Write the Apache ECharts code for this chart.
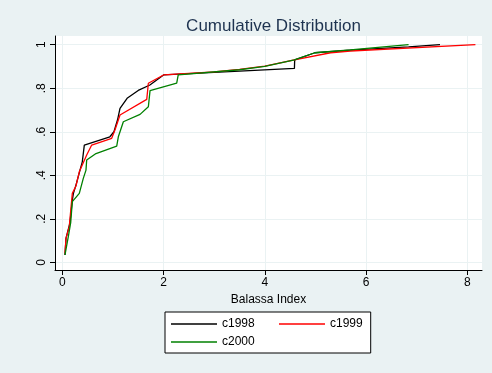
<!DOCTYPE html>
<html>
<head>
<meta charset="utf-8">
<script src="https://cdn.jsdelivr.net/npm/echarts@6/dist/echarts.min.js"></script>
<style>html,body{margin:0;padding:0;background:#EAF2F3;}#c{width:492px;height:373px;}</style>
</head>
<body>
<div id="c"></div>
<script>
var xTicks = [0, 2, 4, 6, 8];
var yTicks = [0, 0.2, 0.4, 0.6, 0.8, 1];

var c1998X = [0.053, 0.073, 0.15, 0.198, 0.22, 0.27, 0.35, 0.395, 0.435, 0.94, 1.02, 1.09, 1.14, 1.28, 1.50, 1.73, 2.0, 3.5, 4.585, 4.59, 4.99, 5.69, 6.84, 7.46];
var c1998Y = [0.034, 0.11, 0.18, 0.286, 0.317, 0.355, 0.424, 0.462, 0.539, 0.577, 0.60, 0.654, 0.708, 0.754, 0.79, 0.815, 0.861, 0.879, 0.891, 0.93, 0.963, 0.975, 0.99, 1.0];

var c1999X = [0.053, 0.073, 0.138, 0.198, 0.27, 0.336, 0.482, 0.581, 0.976, 1.04, 1.14, 1.668, 1.70, 2.0, 3.0, 3.5, 4.0, 4.585, 5.3, 5.69, 8.16];
var c1999Y = [0.041, 0.11, 0.164, 0.317, 0.351, 0.416, 0.493, 0.539, 0.570, 0.608, 0.677, 0.749, 0.823, 0.861, 0.875, 0.887, 0.902, 0.93, 0.963, 0.971, 1.0];

var c2000X = [0.053, 0.119, 0.166, 0.198, 0.336, 0.415, 0.468, 0.482, 0.666, 1.075, 1.107, 1.206, 1.536, 1.70, 1.733, 2.26, 2.29, 3.5, 4.0, 4.585, 4.99, 5.69, 6.84];
var c2000Y = [0.034, 0.118, 0.182, 0.279, 0.317, 0.386, 0.424, 0.47, 0.50, 0.534, 0.577, 0.646, 0.68, 0.715, 0.789, 0.823, 0.861, 0.885, 0.90, 0.93, 0.963, 0.976, 1.0];

function pairs(xs, ys) { return xs.map(function (x, i) { return [x, ys[i]]; }); }

var FONT = 'Liberation Sans';
var chart = echarts.init(document.getElementById('c'), null, { renderer: 'canvas' });
chart.setOption({
  backgroundColor: '#EAF2F3',
  animation: false,
  textStyle: { fontFamily: FONT },
  title: {
    text: 'Cumulative Distribution',
    left: 268.5, top: 13, textAlign: 'center',
    textStyle: { fontFamily: FONT, fontSize: 17, fontWeight: 'normal', color: '#1e3350' }
  },
  grid: { left: 55, right: 10, top: 36, bottom: 103, show: true, backgroundColor: '#ffffff', borderWidth: 0, containLabel: false },
  xAxis: {
    type: 'value', min: -0.144, max: 8.29,
    name: 'Balassa Index', nameLocation: 'middle', nameGap: 22,
    nameTextStyle: { fontFamily: FONT, fontSize: 12, color: '#000' },
    axisLine: { show: true, onZero: false, lineStyle: { color: '#000', width: 1 } },
    axisTick: { show: true, length: 5, customValues: xTicks, lineStyle: { color: '#000' } },
    axisLabel: { customValues: xTicks, fontFamily: FONT, fontSize: 12, color: '#000', margin: 7 },
    splitLine: { show: true, lineStyle: { color: '#EAF2F3', width: 1 } }
  },
  yAxis: {
    type: 'value', min: -0.035, max: 1.04,
    axisLine: { show: true, onZero: false, lineStyle: { color: '#000', width: 1 } },
    axisTick: { show: true, length: 5, customValues: yTicks, lineStyle: { color: '#000' } },
    axisLabel: {
      customValues: yTicks, rotate: 90, fontFamily: FONT, fontSize: 12, color: '#000', margin: 7,
      formatter: function (v) { if (v === 0) return '0'; if (v === 1) return '1'; return String(Math.round(v * 10) / 10).replace(/^0/, ''); }
    },
    splitLine: { show: true, lineStyle: { color: '#EAF2F3', width: 1 } }
  },
  legend: {
    left: 165, top: 312, width: 198, orient: 'horizontal',
    backgroundColor: '#ffffff', borderColor: '#000', borderWidth: 1, borderRadius: 0,
    padding: [5, 8, 4, 6], itemGap: 4, itemWidth: 46, itemHeight: 1.5, icon: 'rect',
    textStyle: { fontFamily: FONT, fontSize: 12, color: '#000', lineHeight: 14 },
    data: [
      { name: 'c1998', textStyle: { width: 53 } },
      { name: 'c1999' },
      { name: 'c2000' }
    ]
  },
  series: [
    { name: 'c1998', type: 'line', showSymbol: false, symbol: 'none', color: '#000000', lineStyle: { width: 1.3, color: '#000000' }, data: pairs(c1998X, c1998Y) },
    { name: 'c1999', type: 'line', showSymbol: false, symbol: 'none', color: '#ff0000', lineStyle: { width: 1.3, color: '#ff0000' }, data: pairs(c1999X, c1999Y) },
    { name: 'c2000', type: 'line', showSymbol: false, symbol: 'none', color: '#008000', lineStyle: { width: 1.3, color: '#008000' }, data: pairs(c2000X, c2000Y) }
  ]
});
</script>
</body>
</html>
